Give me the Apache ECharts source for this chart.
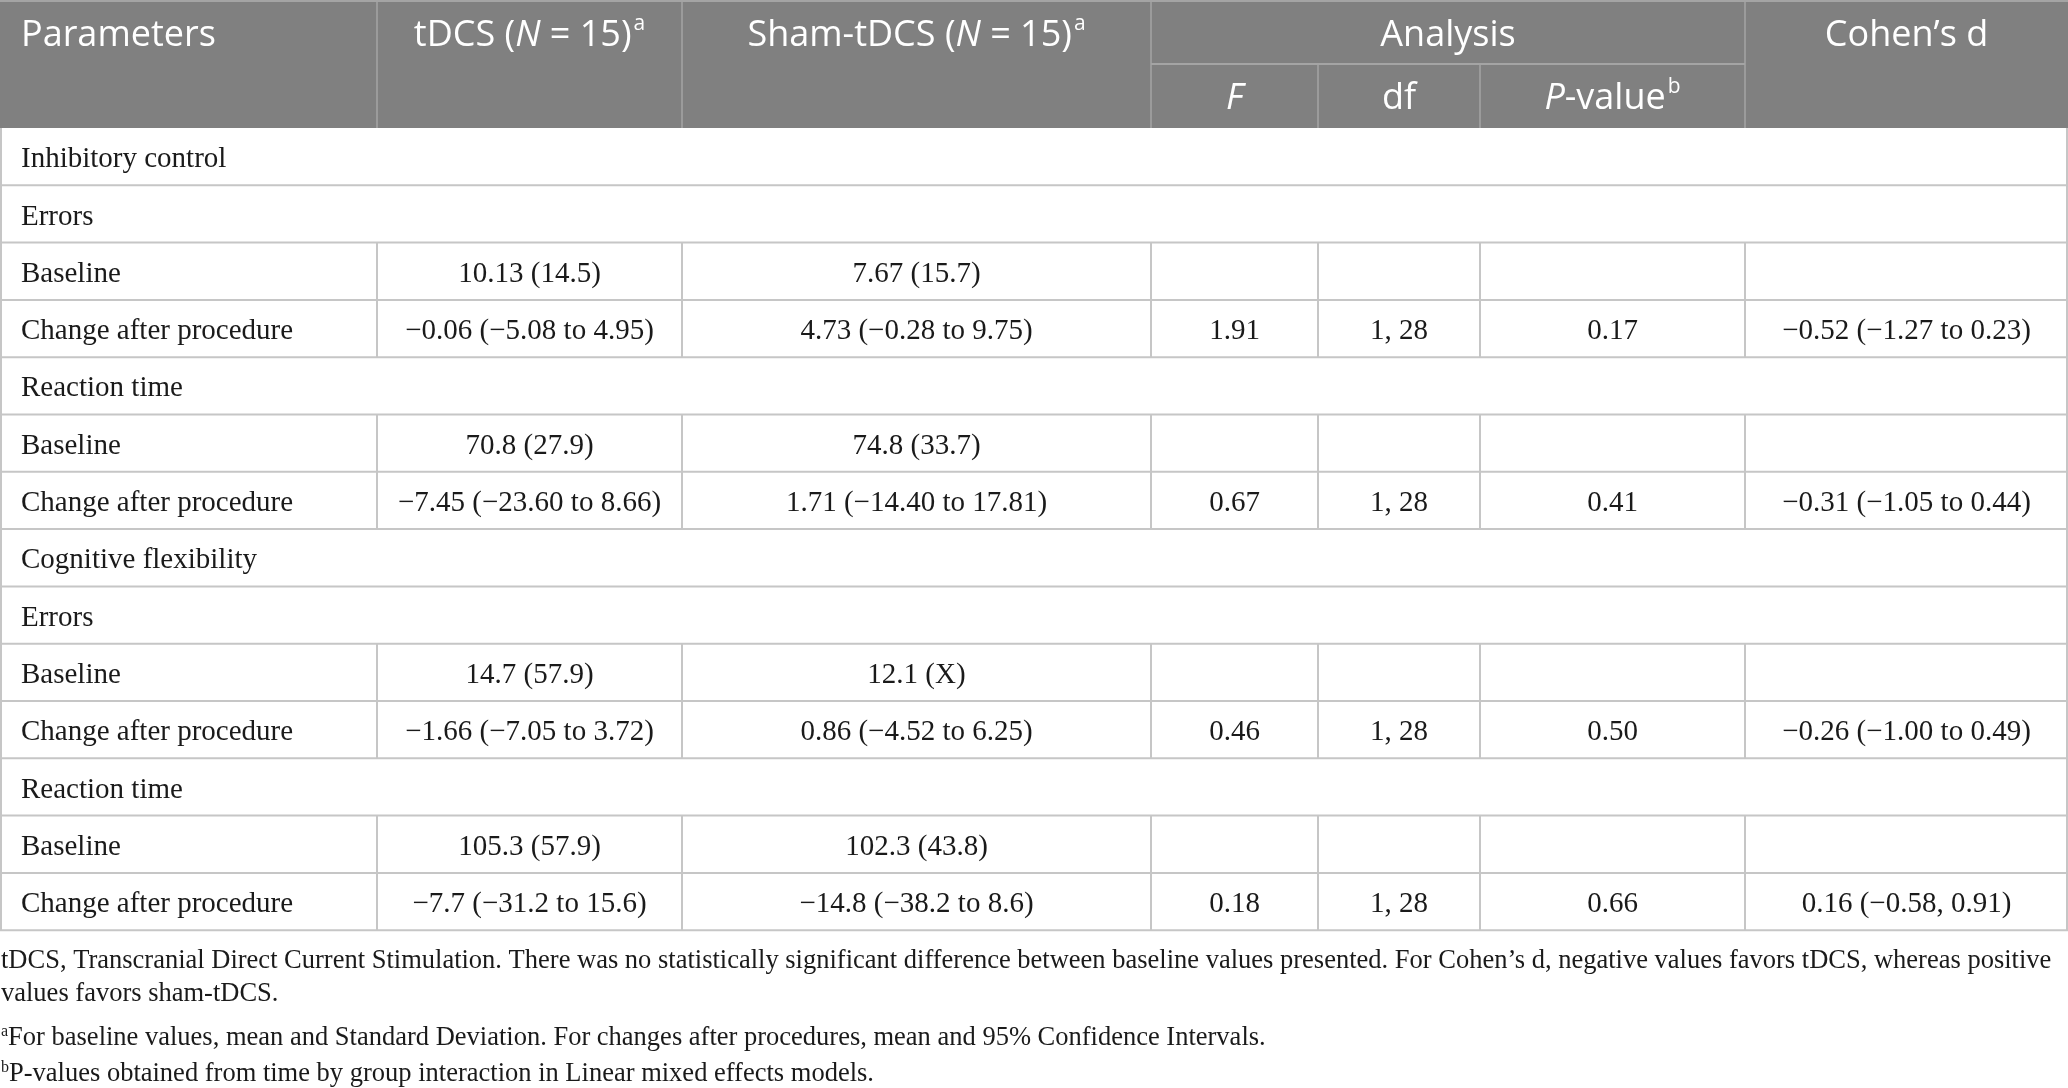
<!DOCTYPE html>
<html lang="en">
<head>
  <meta charset="UTF-8">
  <title>tDCS vs sham-tDCS table</title>
  <script src="https://cdn.jsdelivr.net/npm/echarts@6/dist/echarts.min.js"></script>
  <style>
    html, body { margin: 0; padding: 0; background: #fff; }
    #table { width: 2068px; height: 1088px; }
  </style>
</head>
<body>
  <div id="table"></div>
  <script>
    // row labels, first column
    const rowLabels = ['Inhibitory control', 'Errors', 'Baseline', 'Change after procedure',
      'Reaction time', 'Baseline', 'Change after procedure',
      'Cognitive flexibility', 'Errors', 'Baseline', 'Change after procedure',
      'Reaction time', 'Baseline', 'Change after procedure']
    // null = section row that spans the whole width
    const tdcs = [null, null, '10.13 (14.5)', '−0.06 (−5.08 to 4.95)',
      null, '70.8 (27.9)', '−7.45 (−23.60 to 8.66)',
      null, null, '14.7 (57.9)', '−1.66 (−7.05 to 3.72)',
      null, '105.3 (57.9)', '−7.7 (−31.2 to 15.6)']
    const sham = [null, null, '7.67 (15.7)', '4.73 (−0.28 to 9.75)',
      null, '74.8 (33.7)', '1.71 (−14.40 to 17.81)',
      null, null, '12.1 (X)', '0.86 (−4.52 to 6.25)',
      null, '102.3 (43.8)', '−14.8 (−38.2 to 8.6)']
    const fValues = [null, null, '', '1.91', null, '', '0.67', null, null, '', '0.46', null, '', '0.18']
    const dfValues = [null, null, '', '1, 28', null, '', '1, 28', null, null, '', '1, 28', null, '', '1, 28']
    const pValues = [null, null, '', '0.17', null, '', '0.41', null, null, '', '0.50', null, '', '0.66']
    const cohenD = [null, null, '', '−0.52 (−1.27 to 0.23)', null, '', '−0.31 (−1.05 to 0.44)',
      null, null, '', '−0.26 (−1.00 to 0.49)', null, '', '0.16 (−0.58, 0.91)']

    // header labels (rich text markup)
    const headTop = ['Parameters', '{n|tDCS (}{i|N}{n| = 15)}{s|a}', '{n|Sham-tDCS (}{i|N}{n| = 15)}{s|a}', 'Analysis', 'Cohen’s d']
    const headSub = ['{i|F}', '{n|df}', '{i|P}{n|-value}{s|b}']

    const notes = [
      'tDCS, Transcranial Direct Current Stimulation. There was no statistically significant difference between baseline values presented. For Cohen’s d, negative values favors tDCS, whereas positive',
      'values favors sham-tDCS.',
      '{s|a}{n|For baseline values, mean and Standard Deviation. For changes after procedures, mean and 95% Confidence Intervals.}',
      '{s|b}{n|P-values obtained from time by group interaction in Linear mixed effects models.}'
    ]

    // layout
    const colX = [0, 377, 682, 1151, 1318, 1480, 1745, 2068]
    const headH = 128
    const subY = 64
    const rowH = 57.3
    const noteY = [961, 994, 1038, 1074]

    const sansFont = '"Open Sans", "Noto Sans", sans-serif'
    const serifFont = '"Liberation Serif", "DejaVu Serif", serif'
    const headRich = {
      n: {fill: '#fff', fontFamily: sansFont, fontSize: 36, lineHeight: 44},
      i: {fill: '#fff', fontFamily: sansFont, fontSize: 36, fontStyle: 'italic', lineHeight: 44},
      s: {fill: '#fff', fontFamily: sansFont, fontSize: 21, lineHeight: 44, verticalAlign: 'top', padding: [0, 0, 16, 2]}
    }
    const noteRich = {
      n: {fill: '#1a1a1a', fontFamily: serifFont, fontSize: 26.5, lineHeight: 32},
      s: {fill: '#1a1a1a', fontFamily: serifFont, fontSize: 16, lineHeight: 32, padding: [0, 0, 12, 0]}
    }

    const els = []
    const line = (x1, y1, x2, y2, color, w) => els.push({
      type: 'line', silent: true,
      shape: {x1, y1, x2, y2},
      style: {stroke: color, lineWidth: w}
    })
    const headText = (text, x, y, align) => els.push({
      type: 'text', x, y,
      style: {text, rich: headRich, fill: '#fff', fontFamily: sansFont, fontSize: 36, align, verticalAlign: 'middle'}
    })
    const bodyText = (text, x, y, align) => els.push({
      type: 'text', x, y,
      style: {text, fill: '#1a1a1a', fontFamily: serifFont, fontSize: 29, align, verticalAlign: 'middle'}
    })

    // header block
    els.push({type: 'rect', shape: {x: 0, y: 0, width: colX[7], height: headH}, style: {fill: '#808080'}})
    const headLine = '#a4a4a4'
    line(0, 1, colX[7], 1, headLine, 2)
    line(colX[3], subY, colX[6], subY, headLine, 2)
    ;[1, 2, 3, 6].forEach(c => line(colX[c], 0, colX[c], headH, headLine, 1.5))
    ;[4, 5].forEach(c => line(colX[c], subY, colX[c], headH, headLine, 1.5))

    headText(headTop[0], 21, 36, 'left')
    headText(headTop[1], (colX[1] + colX[2]) / 2, 36, 'center')
    headText(headTop[2], (colX[2] + colX[3]) / 2, 36, 'center')
    headText(headTop[3], (colX[3] + colX[6]) / 2, 36, 'center')
    headText(headTop[4], (colX[6] + colX[7]) / 2, 36, 'center')
    headSub.forEach((t, k) => headText(t, (colX[3 + k] + colX[4 + k]) / 2, 99, 'center'))

    // body rows
    const gridLine = '#c6c6c6'
    const cols = [tdcs, sham, fValues, dfValues, pValues, cohenD]
    rowLabels.forEach((label, r) => {
      const y0 = headH + r * rowH
      const yc = y0 + rowH / 2 + 3
      line(0, y0 + rowH, colX[7], y0 + rowH, gridLine, 2)
      bodyText(label, 21, yc, 'left')
      if (tdcs[r] === null) return
      for (let c = 1; c <= 6; c++) line(colX[c], y0, colX[c], y0 + rowH, gridLine, 2)
      cols.forEach((arr, k) => {
        if (arr[r]) bodyText(arr[r], (colX[k + 1] + colX[k + 2]) / 2, yc, 'center')
      })
    })
    const bottom = headH + rowLabels.length * rowH
    line(1, headH, 1, bottom, gridLine, 2)
    line(colX[7] - 1, headH, colX[7] - 1, bottom, gridLine, 2)

    // footnotes
    notes.forEach((t, k) => els.push({
      type: 'text', x: 1, y: noteY[k],
      style: {text: t, rich: noteRich, fill: '#1a1a1a', fontFamily: serifFont, fontSize: 26.5, align: 'left', verticalAlign: 'middle'}
    }))

    let chart = echarts.init(document.querySelector('#table'))
    chart.setOption({
      backgroundColor: '#fff',
      animation: false,
      graphic: {elements: els}
    })
  </script>
</body>
</html>
